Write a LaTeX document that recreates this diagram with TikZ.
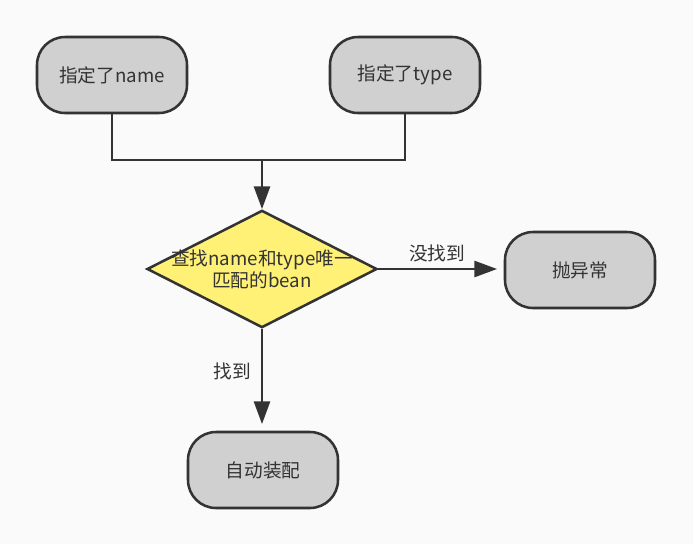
\documentclass[tikz,border=0pt]{standalone}
\usepackage{fontspec}
\setmainfont{Noto Sans CJK SC}
\usetikzlibrary{shapes.geometric,arrows.meta}
\definecolor{myGray}{RGB}{208,208,208}
\definecolor{myYellow}{RGB}{255,241,118}
\definecolor{myLine}{RGB}{51,51,51}
\definecolor{myBack}{RGB}{250,250,250}

\tikzset{
	terminal/.style={draw=myLine,fill=myGray,line width=1.9pt,rounded corners=21pt,minimum width=112.5pt,minimum height=57pt,text=myLine,font=\fontsize{14}{16}\selectfont},
	decision/.style={draw=myLine,fill=myYellow,line width=1.9pt,diamond,minimum width=172.5pt,minimum height=88pt,inner sep=0pt},
	link/.style={draw=myLine,line width=1.9pt},
	flow/.style={link,-{Triangle[length=17pt,width=12pt]}},
	edgeLabel/.style={text=myLine,font=\fontsize{14}{16.5}\selectfont}
}

\begin{document}
\begin{tikzpicture}[x=0.75pt,y=-0.75pt]
		\fill[myBack] (0,0) rectangle (693,544);
		\useasboundingbox (0,0) rectangle (693,544);
		
		\node[terminal] (byName) at (112,75) {指定了name};
		\node[terminal] (byType) at (405,75) {指定了type};
		\node[decision,label={[edgeLabel,align=center]center:查找name和type唯一\\匹配的bean}] (match) at (262,269) {};
		\node[terminal] (fail) at (580,270) {抛异常};
		\node[terminal] (wire) at (263,470) {自动装配};
		
		\coordinate (join) at (262,160);
		
		\draw[link] (byName.south) |- (join);
		\draw[link] (byType.south) |- (join);
		\draw[flow] (join) -- (match.north);
		\draw[flow,shorten >=5pt] (match.east) -- (match.east -| fail.west) node[edgeLabel,midway,above,xshift=-3pt,yshift=1pt]{没找到};
		\draw[flow,shorten >=5pt] (match.south) -- (match.south |- wire.north) node[edgeLabel,pos=0.42,left,xshift=-4pt]{找到};
	\end{tikzpicture}
\end{document}
